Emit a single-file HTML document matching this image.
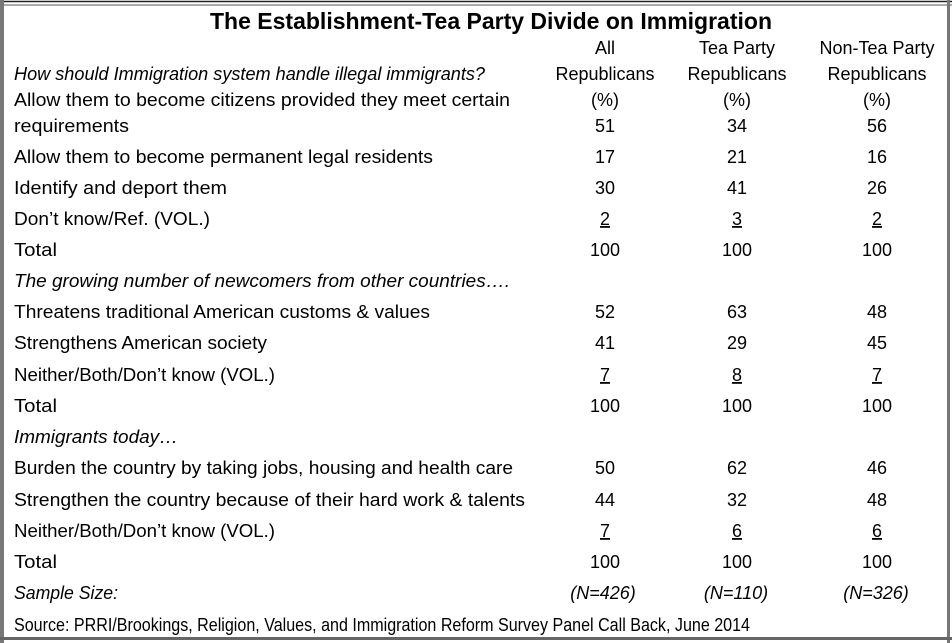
<!DOCTYPE html>
<html><head><meta charset="utf-8"><style>
html,body{margin:0;padding:0;background:#fff;}
svg{display:block;}
text{font-family:"Liberation Sans",sans-serif;font-size:18px;fill:#000;}
.i{font-style:italic;}
.c{text-anchor:middle;}
</style></head><body>
<svg width="952" height="643" xmlns="http://www.w3.org/2000/svg">
<rect x="0" y="0" width="952" height="643" fill="#fff"/>
<line x1="0" y1="1.5" x2="952" y2="1.5" stroke="#222" stroke-width="1.5"/>
<line x1="0" y1="5" x2="952" y2="5" stroke="#555" stroke-width="1"/>
<rect x="0" y="0" width="4" height="643" fill="#777"/>
<rect x="947" y="0" width="3" height="643" fill="#777"/>
<rect x="0" y="637" width="952" height="3" fill="#666"/>
<text x="491" y="29" class="c" font-weight="bold" style="font-size:23px" textLength="562" lengthAdjust="spacingAndGlyphs">The Establishment-Tea Party Divide on Immigration</text>
<g class="c">
<text x="605" y="54" class="c">All</text>
<text x="737" y="54" class="c">Tea Party</text>
<text x="877" y="54" class="c">Non-Tea Party</text>
<text x="605" y="80" class="c">Republicans</text>
<text x="737" y="80" class="c">Republicans</text>
<text x="877" y="80" class="c">Republicans</text>
<text x="605" y="106" class="c">(%)</text>
<text x="737" y="106" class="c">(%)</text>
<text x="877" y="106" class="c">(%)</text>
</g>
<g>
<text x="14" y="80" class="i" textLength="471" lengthAdjust="spacingAndGlyphs">How should Immigration system handle illegal immigrants?</text>
<text x="14" y="106" textLength="496" lengthAdjust="spacingAndGlyphs">Allow them to become citizens provided they meet certain</text>
<text x="14" y="132" textLength="115" lengthAdjust="spacingAndGlyphs">requirements</text>
<text x="14" y="163" textLength="419" lengthAdjust="spacingAndGlyphs">Allow them to become permanent legal residents</text>
<text x="14" y="194" textLength="213" lengthAdjust="spacingAndGlyphs">Identify and deport them</text>
<text x="14" y="225" textLength="196" lengthAdjust="spacingAndGlyphs">Don’t know/Ref. (VOL.)</text>
<text x="14" y="256" textLength="43" lengthAdjust="spacingAndGlyphs">Total</text>
<text x="14" y="287" class="i" textLength="496" lengthAdjust="spacingAndGlyphs">The growing number of newcomers from other countries….</text>
<text x="14" y="318" textLength="416" lengthAdjust="spacingAndGlyphs">Threatens traditional American customs &amp; values</text>
<text x="14" y="349" textLength="253" lengthAdjust="spacingAndGlyphs">Strengthens American society</text>
<text x="14" y="381" textLength="261" lengthAdjust="spacingAndGlyphs">Neither/Both/Don’t know (VOL.)</text>
<text x="14" y="412" textLength="43" lengthAdjust="spacingAndGlyphs">Total</text>
<text x="14" y="443" class="i" textLength="164" lengthAdjust="spacingAndGlyphs">Immigrants today…</text>
<text x="14" y="474" textLength="499" lengthAdjust="spacingAndGlyphs">Burden the country by taking jobs, housing and health care</text>
<text x="14" y="506" textLength="511" lengthAdjust="spacingAndGlyphs">Strengthen the country because of their hard work &amp; talents</text>
<text x="14" y="537" textLength="261" lengthAdjust="spacingAndGlyphs">Neither/Both/Don’t know (VOL.)</text>
<text x="14" y="568" textLength="43" lengthAdjust="spacingAndGlyphs">Total</text>
<text x="14" y="599" class="i" textLength="104" lengthAdjust="spacingAndGlyphs">Sample Size:</text>
<text x="14" y="631" textLength="736" lengthAdjust="spacingAndGlyphs">Source: PRRI/Brookings, Religion, Values, and Immigration Reform Survey Panel Call Back, June 2014</text>
</g>
<g class="c">
<text x="605" y="132" class="c">51</text><text x="737" y="132" class="c">34</text><text x="877" y="132" class="c">56</text>
<text x="605" y="163" class="c">17</text><text x="737" y="163" class="c">21</text><text x="877" y="163" class="c">16</text>
<text x="605" y="194" class="c">30</text><text x="737" y="194" class="c">41</text><text x="877" y="194" class="c">26</text>
<text x="605" y="225" class="c" text-decoration="underline">2</text><text x="737" y="225" class="c" text-decoration="underline">3</text><text x="877" y="225" class="c" text-decoration="underline">2</text>
<text x="605" y="256" class="c">100</text><text x="737" y="256" class="c">100</text><text x="877" y="256" class="c">100</text>
<text x="605" y="318" class="c">52</text><text x="737" y="318" class="c">63</text><text x="877" y="318" class="c">48</text>
<text x="605" y="349" class="c">41</text><text x="737" y="349" class="c">29</text><text x="877" y="349" class="c">45</text>
<text x="605" y="381" class="c" text-decoration="underline">7</text><text x="737" y="381" class="c" text-decoration="underline">8</text><text x="877" y="381" class="c" text-decoration="underline">7</text>
<text x="605" y="412" class="c">100</text><text x="737" y="412" class="c">100</text><text x="877" y="412" class="c">100</text>
<text x="605" y="474" class="c">50</text><text x="737" y="474" class="c">62</text><text x="877" y="474" class="c">46</text>
<text x="605" y="506" class="c">44</text><text x="737" y="506" class="c">32</text><text x="877" y="506" class="c">48</text>
<text x="605" y="537" class="c" text-decoration="underline">7</text><text x="737" y="537" class="c" text-decoration="underline">6</text><text x="877" y="537" class="c" text-decoration="underline">6</text>
<text x="605" y="568" class="c">100</text><text x="737" y="568" class="c">100</text><text x="877" y="568" class="c">100</text>
<text x="603" y="599" class="c i">(N=426)</text><text x="736" y="599" class="c i">(N=110)</text><text x="876" y="599" class="c i">(N=326)</text>
</g>
</svg>
</body></html>
